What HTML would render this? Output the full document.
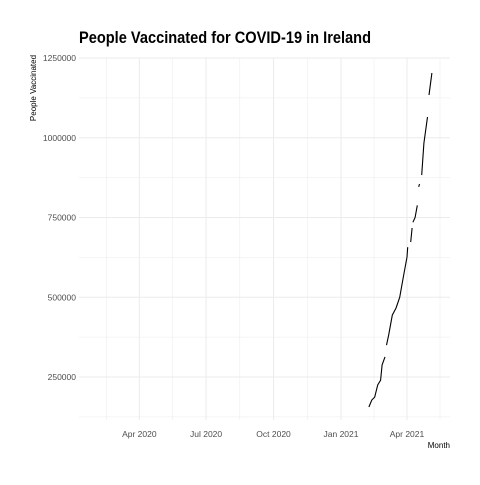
<!DOCTYPE html>
<html><head><meta charset="utf-8"><style>
body{margin:0;background:#fff;}
svg text{font-family:"Liberation Sans",sans-serif;}
</style></head><body>
<svg width="480" height="480" xmlns="http://www.w3.org/2000/svg">
<text x="79" y="43" font-size="17" font-weight="bold" fill="#000" textLength="292" lengthAdjust="spacingAndGlyphs">People Vaccinated for COVID-19 in Ireland</text>
<g id="grid"></g>
<g id="yt"></g>
<g id="xt"></g>
<g id="series"></g>
<text transform="translate(36,88) rotate(-90)" text-anchor="middle" font-size="8" fill="#000">People Vaccinated</text>
<text x="450" y="448" text-anchor="end" font-size="8" fill="#000">Month</text>
</svg>
<script>
const yTicks=[250000,500000,750000,1000000,1250000];
const xTickDays=[-275,-184,-92,0,90];
const xTickLabels=["Apr 2020","Jul 2020","Oct 2020","Jan 2021","Apr 2021"];
const days=[38,42,46,50,54,56,60,null,62,65,70,75,80,85,90,91,null,95,97,null,98,101,104,null,106,107,null,110,113,118,null,120,124];
const values=[156000,178000,187000,225000,240000,288000,313000,null,350000,382000,444000,466000,500000,563000,626000,657000,null,673000,717000,null,735000,750000,788000,null,846000,855000,null,883000,983000,1065000,null,1134000,1203000];
const L=79,R=450,T=58,B=420;
const x=d=>341+d*0.7333;
const y=v=>377-(v-250000)/250000*79.75;
const NS="http://www.w3.org/2000/svg";
function mk(t,a,p){const e=document.createElementNS(NS,t);for(const k in a)e.setAttribute(k,a[k]);p.appendChild(e);return e;}
const grid=document.getElementById('grid');
for(let v=125000;v<=1250000;v+=125000){const yy=y(v);if(yy<T-1||yy>B)continue;
const ln=mk('line',{x1:L,x2:R,y1:yy,y2:yy,stroke:'#ebebeb','stroke-width':(v%250000===0)?1:0.5},grid);

}
const allX=[];for(let i=0;i<xTickDays.length;i++){allX.push([xTickDays[i],1]);if(i<xTickDays.length-1)allX.push([(xTickDays[i]+xTickDays[i+1])/2,0.5]);}
allX.push([-320,0.5]);allX.push([135,0.5]);
allX.forEach(([d,w])=>{const xx=x(d);if(xx<L||xx>R)return;
const ln=mk('line',{x1:xx,x2:xx,y1:T,y2:B,stroke:'#ebebeb','stroke-width':w},grid);

});
const yt=document.getElementById('yt');
yTicks.forEach(v=>{const t=mk('text',{x:76,y:y(v)+3,'text-anchor':'end','font-size':'8.5',fill:'#4d4d4d'},yt);t.textContent=v;

});
const xt=document.getElementById('xt');
xTickDays.forEach((d,i)=>{const t=mk('text',{x:x(d),y:437,'text-anchor':'middle','font-size':'8.5',fill:'#4d4d4d'},xt);t.textContent=xTickLabels[i];

});
const s=document.getElementById('series');let dstr='',pen=false;
for(let i=0;i<days.length;i++){if(days[i]===null||values[i]===null){pen=false;continue;}
dstr+=(pen?'L':'M')+x(days[i]).toFixed(1)+','+y(values[i]).toFixed(1);pen=true;}
const p=mk('path',{d:dstr,fill:'none',stroke:'#000','stroke-width':1.1},s);


</script>
</body></html>
